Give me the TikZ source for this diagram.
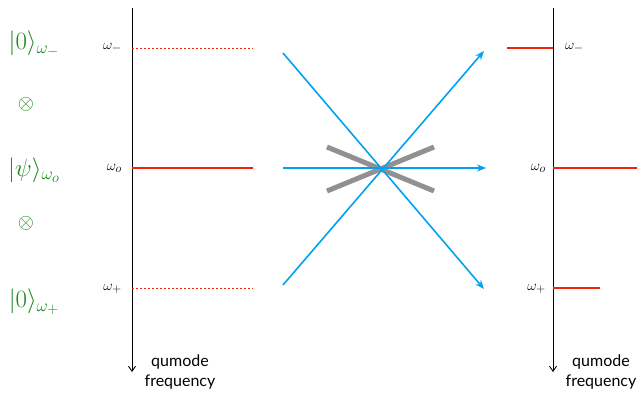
\documentclass[tikz,border=0pt]{standalone}
\usepackage{fontspec}
\newfontfamily\labfont{Lato}
\usetikzlibrary{arrows.meta}
\DeclareMathSizes{15}{15}{11.5}{9.5}
\DeclareMathSizes{24}{24}{18}{15}
\DeclareMathSizes{20}{20}{14}{10}
\definecolor{lvred}{RGB}{240,35,10}
\definecolor{beamblue}{RGB}{0,162,240}
\definecolor{stgreen}{RGB}{25,135,25}
\definecolor{bsgray}{RGB}{145,145,145}
\tikzset{
  axisline/.style={black, line width=0.9pt, -{Straight Barb[length=5pt,width=7pt]}},
  vacuum/.style={lvred, dash pattern=on 2pt off 2pt, line width=0.9pt},
  filled/.style={lvred, line width=2.5pt},
  beam/.style={beamblue, line width=1.6pt, -{Stealth[length=9pt,width=7pt]}},
  splitter/.style={bsgray, line width=5pt},
  wlab/.style={font=\fontsize{15}{17}\selectfont, inner sep=1pt},
  slab/.style={text=stgreen, font=\fontsize{24}{28}\selectfont, inner sep=0pt},
  tlab/.style={text=stgreen, font=\fontsize{20}{24}\selectfont, inner sep=0pt},
  axlab/.style={font=\labfont\fontsize{16}{20}\selectfont, align=center, inner sep=0pt}
}
\begin{document}
\begin{tikzpicture}[x=1pt,y=-1pt]
\useasboundingbox (0,0) rectangle (637,394);
% left axis
\coordinate (la1) at (132,8);
\coordinate (la2) at (132,372);
\draw[axisline] (la1) -- (la2);
\node[axlab] (lq) at (180,372) {qumode\\frequency};
% left levels
\coordinate (lm) at (132,48); \coordinate (lme) at (253,48);
\coordinate (lo) at (132,168); \coordinate (loe) at (253,168);
\coordinate (lp) at (132,288); \coordinate (lpe) at (253,288);
\draw[vacuum] (lm) -- (lme);
\draw[filled] (lo) -- (loe);
\draw[vacuum] (lp) -- (lpe);
\node[wlab, anchor=east] (wlm) at (123,48) {$\omega_-$};
\node[wlab, anchor=east] (wlo) at (123,168) {$\omega_o$};
\node[wlab, anchor=east] (wlp) at (123,289) {$\omega_+$};
% green state labels
\node[slab] (s1) at (34,44) {$|0\rangle_{\omega_-}$};
\node[tlab] (t1) at (26,104) {$\otimes$};
\node[slab] (s2) at (34,170) {$|\psi\rangle_{\omega_o}$};
\node[tlab] (t2) at (26,223) {$\otimes$};
\node[slab] (s3) at (34,302) {$|0\rangle_{\omega_+}$};
% beam splitter
\coordinate (g1) at (327,147); \coordinate (g2) at (434,191);
\coordinate (g3) at (327,191); \coordinate (g4) at (434,147);
\draw[splitter] (g1) -- (g2);
\draw[splitter] (g3) -- (g4);
% beams
\coordinate (b1s) at (283,53); \coordinate (b1e) at (484,289);
\coordinate (b2s) at (283,285); \coordinate (b2e) at (484,51);
\coordinate (b3s) at (283,168); \coordinate (b3e) at (486,168);
\draw[beam] (b1s) -- (b1e);
\draw[beam] (b2s) -- (b2e);
\draw[beam] (b3s) -- (b3e);
% right axis
\coordinate (ra1) at (553,8);
\coordinate (ra2) at (553,372);
\draw[axisline] (ra1) -- (ra2);
\node[axlab] (rq) at (601,372) {qumode\\frequency};
\coordinate (rm) at (553,48); \coordinate (rme) at (507,48);
\coordinate (ro) at (553,168); \coordinate (roe) at (640,168);
\coordinate (rp) at (553,288); \coordinate (rpe) at (600,288);
\draw[filled] (rm) -- (rme);
\draw[filled] (ro) -- (roe);
\draw[filled] (rp) -- (rpe);
\node[wlab, anchor=west] (wrm) at (564,48) {$\omega_-$};
\node[wlab, anchor=east] (wro) at (547,168) {$\omega_o$};
\node[wlab, anchor=east] (wrp) at (547,289) {$\omega_+$};
\end{tikzpicture}
\end{document}
